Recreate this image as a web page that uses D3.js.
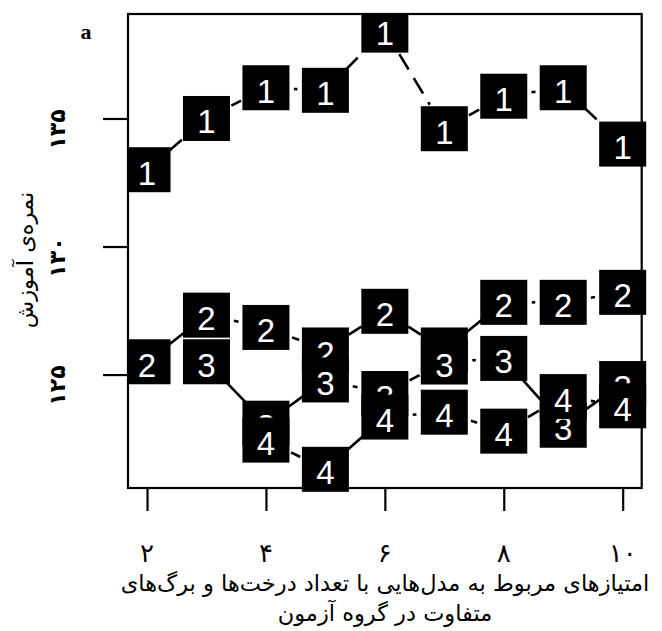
<!DOCTYPE html>
<html>
<head>
<meta charset="utf-8">
<script src="https://cdn.jsdelivr.net/npm/d3@7"></script>
<style>
  body { margin: 0; background: #fff; }
  svg { display: block; }
</style>
</head>
<body>
<div id="chart"></div>
<script>
// x positions and tick labels
const xTicks = [2, 4, 6, 8, 10];
const xTickLabels = ["۲", "۴", "۶", "۸", "۱۰"];
const yTicks = [125, 130, 135];
const yTickLabels = ["۱۲۵", "۱۳۰", "۱۳۵"];

// series values
const s1x = [2, 3, 4, 5, 6, 7, 8, 9, 10];
const s1y = [133.0, 135.0, 136.2, 136.1, 138.45, 134.6, 135.87, 136.2, 134.0];
const s2x = [2, 3, 4, 5, 6, 7, 8, 9, 10];
const s2y = [125.5, 127.32, 126.84, 125.96, 127.47, 125.96, 127.82, 127.82, 128.21];
const s3x = [3, 4, 5, 6, 7, 8, 9, 10];
const s3y = [125.5, 123.1, 124.79, 124.26, 125.49, 125.63, 123.02, 124.65];
const s4x = [4, 5, 6, 7, 8, 9, 10];
const s4y = [122.44, 121.3, 123.34, 123.53, 122.79, 124.14, 123.78];
const seriesLabels = ["1", "2", "3", "4"];

const xTitle1 = "امتیازهای مربوط به مدل‌هایی با تعداد درخت‌ها و برگ‌های";
const xTitle2 = "متفاوت در گروه آزمون";
const yTitle = "نمره‌ی آموزش";

const width = 662, height = 631;
const plot = { left: 128, right: 641.7, top: 14, bottom: 488 };

const svg = d3.select("#chart").append("svg")
    .attr("width", width)
    .attr("height", height);

const x = d3.scaleLinear().domain([1.68, 10.32]).range([plot.left, plot.right]);
const y = d3.scaleLinear().domain([120.57, 139.08]).range([plot.bottom, plot.top]);

const arabicFont = "'DejaVu Sans', sans-serif";

// box
svg.append("rect")
    .attr("x", plot.left).attr("y", plot.top)
    .attr("width", plot.right - plot.left).attr("height", plot.bottom - plot.top)
    .attr("fill", "none").attr("stroke", "#000").attr("stroke-width", 2.2);

// x axis ticks (R style, below the box)
const xAxis = d3.axisBottom(x).tickValues(xTicks).tickSize(23).tickFormat("");
const gx = svg.append("g").attr("transform", `translate(0,${plot.bottom})`).call(xAxis);
gx.select(".domain").remove();
gx.selectAll(".tick line").attr("stroke", "#000").attr("stroke-width", 2.2);

svg.append("g").selectAll("text")
    .data(xTicks)
    .join("text")
    .attr("x", d => x(d))
    .attr("y", 562)
    .attr("text-anchor", "middle")
    .style("font-family", arabicFont)
    .style("font-size", "26px")
    .text((d, i) => xTickLabels[i]);

// y axis ticks
const yAxis = d3.axisLeft(y).tickValues(yTicks).tickSize(25).tickFormat("");
const gy = svg.append("g").attr("transform", `translate(${plot.left},0)`).call(yAxis);
gy.select(".domain").remove();
gy.selectAll(".tick line").attr("stroke", "#000").attr("stroke-width", 2.2);

svg.append("g").selectAll("text")
    .data(yTicks)
    .join("text")
    .attr("transform", d => `translate(65,${y(d) + 11}) rotate(-90)`)
    .attr("text-anchor", "middle")
    .style("font-family", arabicFont)
    .style("font-weight", "bold")
    .style("font-size", "22px")
    .text((d, i) => yTickLabels[i]);

// titles
svg.append("text")
    .attr("x", 385).attr("y", 591)
    .attr("text-anchor", "middle")
    .attr("direction", "rtl")
    .style("font-family", arabicFont)
    .style("font-size", "22.5px")
    .text(xTitle1);
svg.append("text")
    .attr("x", 385).attr("y", 621)
    .attr("text-anchor", "middle")
    .attr("direction", "rtl")
    .style("font-family", arabicFont)
    .style("font-size", "22.5px")
    .text(xTitle2);
svg.append("text")
    .attr("transform", "translate(33,260) rotate(-90)")
    .attr("text-anchor", "middle")
    .attr("direction", "rtl")
    .style("font-family", arabicFont)
    .style("font-size", "22.5px")
    .text(yTitle);

svg.append("text")
    .attr("x", 86).attr("y", 39)
    .attr("text-anchor", "middle")
    .style("font-family", "'Liberation Serif', serif")
    .style("font-weight", "bold")
    .style("font-size", "22px")
    .text("a");

// clip: squares are cut at the left and top edges of the box only
svg.append("defs").append("clipPath").attr("id", "clip")
    .append("rect")
    .attr("x", plot.left + 1.1).attr("y", plot.top + 1.1)
    .attr("width", width).attr("height", height);

const series = [
    { xs: s1x, ys: s1y, dash: "18,10" },
    { xs: s2x, ys: s2y, dash: null },
    { xs: s3x, ys: s3y, dash: null },
    { xs: s4x, ys: s4y, dash: null }
];

const gap = 28; // type "b": segments stop short of the points
const boxW = 47, boxH = 45;

series.forEach((s, k) => {
    const pts = s.xs.map((v, i) => ({ x: v, y: s.ys[i] }));
    const g = svg.append("g").attr("clip-path", "url(#clip)");

    const segs = d3.pairs(pts).map(([a, b]) => {
        const x1 = x(a.x), y1 = y(a.y), x2 = x(b.x), y2 = y(b.y);
        const len = Math.hypot(x2 - x1, y2 - y1);
        const ux = (x2 - x1) / len, uy = (y2 - y1) / len;
        return { x1: x1 + ux * gap, y1: y1 + uy * gap, x2: x2 - ux * gap, y2: y2 - uy * gap, ok: len > 2 * gap };
    }).filter(d => d.ok);

    g.selectAll("line")
        .data(segs)
        .join("line")
        .attr("x1", d => d.x1).attr("y1", d => d.y1)
        .attr("x2", d => d.x2).attr("y2", d => d.y2)
        .attr("stroke", "#000")
        .attr("stroke-width", 2.6)
        .attr("stroke-dasharray", s.dash);

    g.selectAll("rect")
        .data(pts)
        .join("rect")
        .attr("x", d => x(d.x) - boxW / 2)
        .attr("y", d => y(d.y) - boxH / 2)
        .attr("width", boxW).attr("height", boxH)
        .attr("fill", "#000");

    g.selectAll("text")
        .data(pts)
        .join("text")
        .attr("x", d => x(d.x))
        .attr("y", d => y(d.y) + 15)
        .attr("text-anchor", "middle")
        .attr("fill", "#fff")
        .style("font-family", "'Liberation Sans', Arial, sans-serif")
        .style("font-size", "33px")
        .text(seriesLabels[k]);
});
</script>
</body>
</html>
